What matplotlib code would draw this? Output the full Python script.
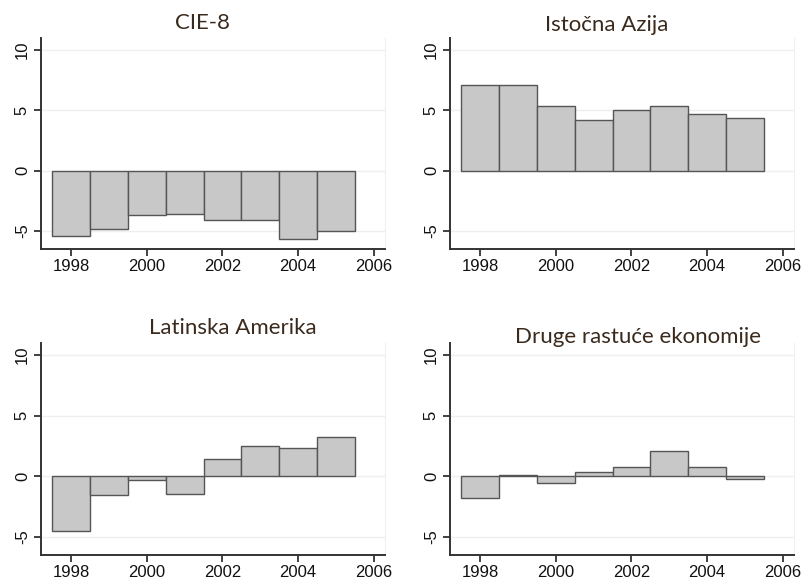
import matplotlib
matplotlib.use("Agg")
import matplotlib.pyplot as plt

years = [1998, 1999, 2000, 2001, 2002, 2003, 2004, 2005]

cie8 = [-5.45, -4.8, -3.72, -3.58, -4.13, -4.07, -5.65, -4.98]
istocna_azija = [7.09, 7.1, 5.33, 4.2, 5.06, 5.36, 4.7, 4.34]
latinska_amerika = [-4.56, -1.51, -0.27, -1.43, 1.46, 2.5, 2.34, 3.27]
druge = [-1.81, 0.14, -0.52, 0.38, 0.77, 2.09, 0.77, -0.19]

titles = ["CIE-8", "Istočna Azija", "Latinska Amerika", "Druge rastuće ekonomije"]
series = [cie8, istocna_azija, latinska_amerika, druge]

xticks = [1998, 2000, 2002, 2004, 2006]
yticks = [-5, 0, 5, 10]

W, H = 804, 584
fig = plt.figure(figsize=(W / 100, H / 100), dpi=100)

# panel boxes in pixels: left, top, right, bottom
boxes = [(41, 38, 385, 249), (450, 38, 794, 249),
         (41, 343, 385, 555), (450, 343, 794, 555)]
# title centres in pixels
title_pos = [(203, 23), (607, 25), (233, 328), (638, 337)]

for box, vals, title, tp in zip(boxes, series, titles, title_pos):
    l, t, r, b = box
    ax = fig.add_axes([l / W, 1 - b / H, (r - l) / W, (b - t) / H])
    for y in yticks:
        ax.axhline(y, color="#efefef", lw=1.0, zorder=0)
    ax.bar(years, vals, width=1.0, color="#c8c8c8", edgecolor="#555555",
           linewidth=1.0, zorder=2)
    ax.set_xlim(1997.2, 2006.3)
    ax.set_ylim(-6.5, 11)
    ax.set_xticks(xticks)
    ax.set_yticks(yticks)
    ax.set_yticklabels([str(v) for v in yticks], rotation=90, va="center")
    ax.spines["top"].set_visible(False)
    ax.spines["right"].set_color("#f0f0f0")
    ax.spines["left"].set_color("#333333")
    ax.spines["bottom"].set_color("#333333")
    ax.spines["left"].set_linewidth(1.4)
    ax.spines["bottom"].set_linewidth(1.4)
    ax.tick_params(axis="both", length=5, width=1.3, color="#333333",
                   labelsize=12, labelcolor="#111111")
    ax.tick_params(axis="x", pad=2)
    ax.tick_params(axis="y", pad=3)
    for lab in ax.get_xticklabels() + ax.get_yticklabels():
        lab.set_family("Liberation Sans")
    fig.text(tp[0] / W, 1 - tp[1] / H, title, ha="center", va="center",
             fontsize=16, family="Lato", color="#3a2a1e")

fig.savefig("out.png", dpi=100)
